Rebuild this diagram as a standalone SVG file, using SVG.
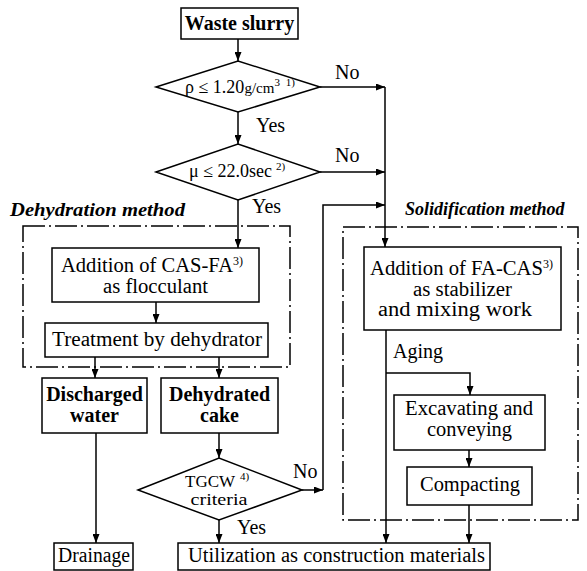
<svg xmlns="http://www.w3.org/2000/svg" width="587" height="571" viewBox="0 0 587 571">
<defs>
<marker id="arr" markerUnits="userSpaceOnUse" markerWidth="9" markerHeight="7" refX="9" refY="3.5" orient="auto">
<path d="M0,0 L9,3.5 L0,7 z" fill="#000"/>
</marker>
</defs>
<style>
.box{fill:#fff;stroke:#000;stroke-width:1.5}
.frame{fill:none;stroke:#000;stroke-width:1.5;stroke-dasharray:22 4 2 4}
.arw{fill:none;stroke:#000;stroke-width:1.5;marker-end:url(#arr)}
text{font-family:"Liberation Serif","Times New Roman",serif;fill:#000}
.t{font-size:20.5px;text-anchor:middle}
.b{font-size:20px;font-weight:bold;text-anchor:middle}
.lab{font-size:20px}
.ttl{font-size:18px;font-weight:bold;font-style:italic}
.sup{font-size:11px}
</style>
<rect width="587" height="571" fill="#fff"/>

<g id="frame-dehydration">
<rect class="frame" x="23" y="226" width="267" height="141"/>
<text class="ttl" x="10" y="216" textLength="175" lengthAdjust="spacingAndGlyphs">Dehydration method</text>
</g>
<g id="frame-solidification">
<rect class="frame" x="343" y="227" width="235" height="293"/>
<text class="ttl" x="405" y="215">Solidification method</text>
</g>

<g id="connectors">
<line class="arw" x1="238" y1="39" x2="238" y2="61"/>
<line class="arw" x1="320" y1="87" x2="385" y2="87"/>
<line class="arw" x1="238" y1="112" x2="238" y2="144"/>
<line class="arw" x1="320" y1="172" x2="385" y2="172"/>
<line class="arw" x1="238" y1="200" x2="238" y2="248"/>
<line class="arw" x1="385" y1="87" x2="385" y2="247"/>
<line class="arw" x1="156" y1="302" x2="156" y2="323"/>
<line class="arw" x1="95" y1="357" x2="95" y2="378"/>
<line class="arw" x1="219" y1="357" x2="219" y2="378"/>
<line class="arw" x1="96" y1="433" x2="96" y2="543"/>
<line class="arw" x1="219" y1="433" x2="219" y2="458"/>
<line class="arw" x1="219" y1="520" x2="219" y2="543"/>
<line class="arw" x1="302" y1="490" x2="323" y2="490"/>
<polyline class="arw" points="323,490 323,205 385,205"/>
<line class="arw" x1="386" y1="330" x2="386" y2="543"/>
<polyline class="arw" points="386,373 470,373 470,395"/>
<line class="arw" x1="469" y1="450" x2="469" y2="467"/>
<line class="arw" x1="469" y1="505" x2="469" y2="543"/>
</g>

<g id="labels">
<text class="lab" x="335" y="79">No</text>
<text class="lab" x="335" y="162">No</text>
<text class="lab" x="293" y="478">No</text>
<text class="lab" x="256" y="132">Yes</text>
<text class="lab" x="252" y="213">Yes</text>
<text class="lab" x="237" y="534">Yes</text>
<text class="lab" x="393" y="358" textLength="50" lengthAdjust="spacingAndGlyphs">Aging</text>
</g>

<g id="n-waste">
<rect class="box" x="181" y="8" width="117" height="31"/>
<text class="b" x="239.5" y="30">Waste slurry</text>
</g>

<g id="n-density">
<polygon class="box" points="156,87 238,61 320,87 238,112"/>
<text x="185" y="93" style="font-size:18px">ρ ≤ 1.20<tspan style="font-size:15px">g/cm</tspan><tspan class="sup" dy="-7">3</tspan><tspan class="sup" dx="3"> 1)</tspan></text>
</g>

<g id="n-viscosity">
<polygon class="box" points="156,172 238,144 320,172 238,200"/>
<text x="189" y="177" style="font-size:18px">μ ≤ 22.0sec<tspan class="sup" dy="-7" dx="4">2)</tspan></text>
</g>

<g id="n-add-casfa">
<rect class="box" x="52" y="248" width="207" height="54"/>
<text x="61" y="272" style="font-size:20.5px"><tspan textLength="172" lengthAdjust="spacingAndGlyphs">Addition of CAS-FA</tspan><tspan style="font-size:12px" dy="-7">3)</tspan></text>
<text class="t" x="155.5" y="293" textLength="105" lengthAdjust="spacingAndGlyphs">as flocculant</text>
</g>

<g id="n-treatment">
<rect class="box" x="45" y="323" width="223" height="34"/>
<text class="t" x="157" y="346" textLength="210" lengthAdjust="spacingAndGlyphs">Treatment by dehydrator</text>
</g>

<g id="n-discharged">
<rect class="box" x="42" y="378" width="105" height="55"/>
<text class="b" x="94.5" y="401">Discharged</text>
<text class="b" x="94.5" y="422">water</text>
</g>

<g id="n-cake">
<rect class="box" x="161" y="378" width="117" height="55"/>
<text class="b" x="219.5" y="401">Dehydrated</text>
<text class="b" x="219.5" y="422">cake</text>
</g>

<g id="n-tgcw">
<polygon class="box" points="138,490 219,458 302,490 219,520"/>
<text x="185" y="487" style="font-size:17px">TGCW<tspan class="sup" dx="5" dy="-7">4)</tspan></text>
<text class="t" x="219" y="505" style="font-size:17px" textLength="57" lengthAdjust="spacingAndGlyphs">criteria</text>
</g>

<g id="n-drainage">
<rect class="box" x="54" y="543" width="79" height="27"/>
<text class="t" x="94" y="562" textLength="72" lengthAdjust="spacingAndGlyphs">Drainage</text>
</g>

<g id="n-utilization">
<rect class="box" x="178" y="543" width="312" height="27"/>
<text x="188" y="562" style="font-size:20.5px" textLength="297" lengthAdjust="spacingAndGlyphs">Utilization as construction materials</text>
</g>

<g id="n-add-facas">
<rect class="box" x="364" y="247" width="197" height="83"/>
<text x="370" y="275" style="font-size:20.5px"><tspan textLength="173" lengthAdjust="spacingAndGlyphs">Addition of FA-CAS</tspan><tspan style="font-size:12px" dy="-7">3)</tspan></text>
<text class="t" x="462.5" y="296" textLength="99" lengthAdjust="spacingAndGlyphs">as stabilizer</text>
<text class="t" x="455" y="316" textLength="154" lengthAdjust="spacingAndGlyphs">and mixing work</text>
</g>

<g id="n-excavating">
<rect class="box" x="394" y="395" width="151" height="55"/>
<text class="t" x="469" y="415" textLength="128" lengthAdjust="spacingAndGlyphs">Excavating and</text>
<text class="t" x="469.5" y="436" textLength="85" lengthAdjust="spacingAndGlyphs">conveying</text>
</g>

<g id="n-compacting">
<rect class="box" x="407" y="467" width="125" height="38"/>
<text class="t" x="470" y="491" textLength="100" lengthAdjust="spacingAndGlyphs">Compacting</text>
</g>
</svg>
